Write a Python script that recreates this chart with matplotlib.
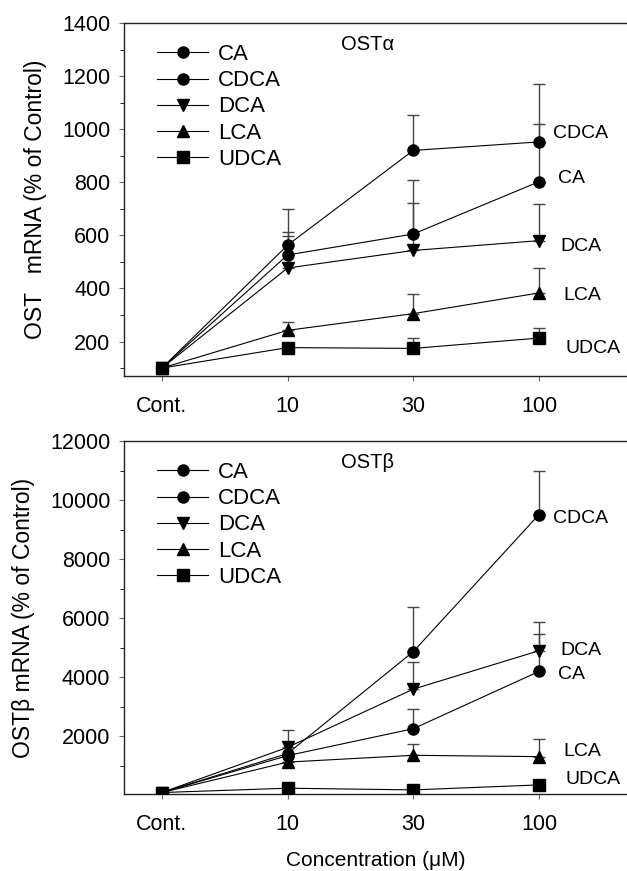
import matplotlib.pyplot as plt
import numpy as np
from matplotlib.ticker import MultipleLocator

plt.rcParams['font.family'] = ['Liberation Sans', 'DejaVu Sans']

conc_labels = ["Cont.", "10", "30", "100"]
acids = ["CA", "CDCA", "DCA", "LCA", "UDCA"]
markers = {"CA": "o", "CDCA": "o", "DCA": "v", "LCA": "^", "UDCA": "s"}

# OST alpha (% of control), mean and upper error
alpha_ca = [100, 526, 605, 802]
alpha_cdca = [100, 563, 920, 952]
alpha_dca = [100, 477, 543, 580]
alpha_lca = [100, 242, 305, 383]
alpha_udca = [100, 177, 174, 213]
alpha_ca_err = [0, 86, 203, 218]
alpha_cdca_err = [0, 135, 132, 220]
alpha_dca_err = [0, 121, 178, 138]
alpha_lca_err = [0, 33, 75, 94]
alpha_udca_err = [0, 0, 41, 36]

# OST beta (% of control)
beta_ca = [100, 1350, 2260, 4200]
beta_cdca = [100, 1420, 4870, 9510]
beta_dca = [100, 1630, 3600, 4900]
beta_lca = [100, 1130, 1360, 1315]
beta_udca = [100, 246, 189, 358]
beta_ca_err = [0, 0, 675, 1260]
beta_cdca_err = [0, 0, 1525, 1470]
beta_dca_err = [0, 600, 920, 970]
beta_lca_err = [0, 0, 370, 610]
beta_udca_err = [0, 0, 0, 0]

alpha = {"CA": (alpha_ca, alpha_ca_err), "CDCA": (alpha_cdca, alpha_cdca_err),
         "DCA": (alpha_dca, alpha_dca_err), "LCA": (alpha_lca, alpha_lca_err),
         "UDCA": (alpha_udca, alpha_udca_err)}
beta = {"CA": (beta_ca, beta_ca_err), "CDCA": (beta_cdca, beta_cdca_err),
        "DCA": (beta_dca, beta_dca_err), "LCA": (beta_lca, beta_lca_err),
        "UDCA": (beta_udca, beta_udca_err)}

# end-of-line label offsets (x in category units, y in data units)
label_dx = {"CA": 0.15, "CDCA": 0.11, "DCA": 0.17, "LCA": 0.19, "UDCA": 0.21}
alpha_label_dy = {"CA": 11, "CDCA": 30, "DCA": -22, "LCA": -8, "UDCA": -38}
beta_label_dy = {"CA": -100, "CDCA": -135, "DCA": 0, "LCA": 170, "UDCA": 170}

fig = plt.figure(figsize=(6.27, 8.71), dpi=100)
ax1 = fig.add_axes([0.198, 0.5683, 0.802, 0.4053])
ax2 = fig.add_axes([0.198, 0.0884, 0.802, 0.4053])

x = np.arange(len(conc_labels))


def draw_panel(ax, data, label_dy, ylim, major, minor, title, ylabel):
    for name in acids:
        vals, err = data[name]
        ax.errorbar(x, vals, yerr=[np.zeros(len(err)), err], fmt='none',
                    ecolor='#444444', elinewidth=1.0, capsize=4, capthick=1.0, zorder=2)
        ax.plot(x, vals, color='black', lw=0.8, marker=markers[name],
                markersize=8, markerfacecolor='black', markeredgecolor='black',
                label=name, zorder=3)
        ax.text(x[-1] + label_dx[name], vals[-1] + label_dy[name], name,
                fontsize=14, va='center', ha='left')
    ax.set_xlim(-0.3, 3.7)
    ax.set_ylim(*ylim)
    ax.set_xticks(x, conc_labels)
    ax.yaxis.set_major_locator(MultipleLocator(major))
    ax.yaxis.set_minor_locator(MultipleLocator(minor))
    ax.tick_params(axis='both', labelsize=15.5, direction='out', color='#666666')
    ax.tick_params(axis='y', which='minor', length=3)
    ax.tick_params(axis='y', pad=6.5)
    ax.tick_params(axis='x', pad=11)
    ax.spines['right'].set_visible(False)
    for s in ['top', 'left', 'bottom']:
        ax.spines[s].set_linewidth(1.0)
        ax.spines[s].set_color('#222222')
    ax.text(0.431, 0.938, title, transform=ax.transAxes, fontsize=14.5,
            va='center', ha='left')
    ax.set_ylabel(ylabel, fontsize=16.5, labelpad=11)
    ax.legend(loc='upper left', bbox_to_anchor=(0.048, 0.965), frameon=False,
              fontsize=16, handlelength=2.3, handletextpad=0.45,
              labelspacing=0.23, borderaxespad=0)


draw_panel(ax1, alpha, alpha_label_dy, (70, 1400), 200, 100,
           "OST\u03b1", "OST   mRNA (% of Control)")
draw_panel(ax2, beta, beta_label_dy, (50, 12000), 2000, 1000,
           "OST\u03b2", "OST\u03b2 mRNA (% of Control)")
ax2.set_xlabel("Concentration (\u03bcM)", fontsize=15, labelpad=11.5)

fig.savefig("out.png", dpi=100)
